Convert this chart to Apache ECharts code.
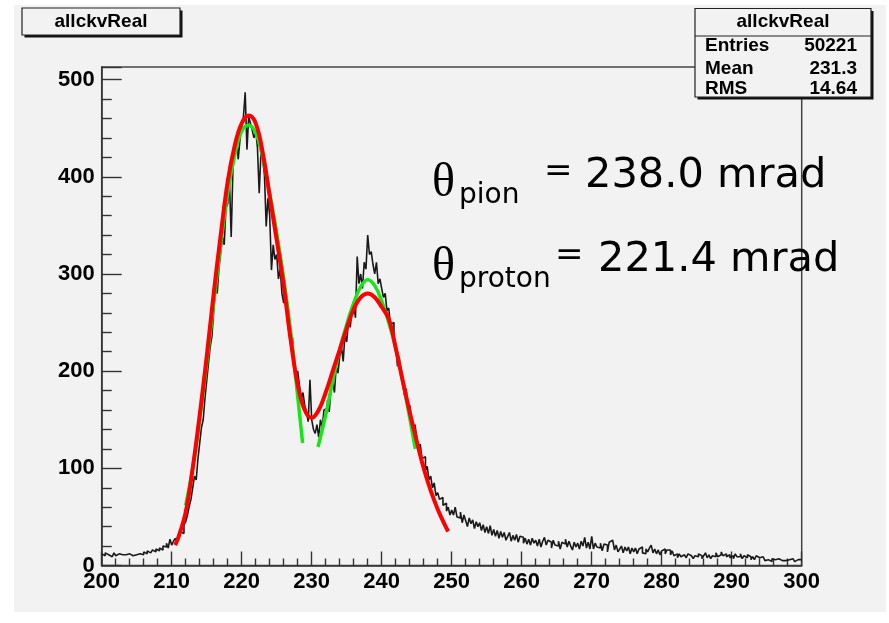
<!DOCTYPE html>
<html>
<head>
<meta charset="utf-8">
<script src="https://cdn.jsdelivr.net/npm/echarts@6/dist/echarts.min.js"></script>
<style>
  html, body { margin: 0; padding: 0; background: #ffffff; }
  #chart { width: 889px; height: 623px; }
</style>
</head>
<body>
<div id="chart"></div>
<script>
// Cherenkov angle histogram (mrad), 0.25 mrad bins from 200 to 300
const histName = 'allckvReal';
const binLow = 200;
const binWidth = 0.25;
const counts = [
  12, 10, 13, 11,   12, 9, 11, 13,    10, 12, 14, 11,   12, 11, 9, 12,
  13, 10, 12, 11,   9, 12, 13, 11,    14, 12, 15, 13,   11, 16, 14, 17,
  15, 18, 16, 20,   19, 23, 18, 27,   // 200-209
  21, 25, 28, 24,   30, 35, 33, 42,   45, 52, 61, 68,   80, 92, 88, 110,
  126, 142, 150, 172, 190, 208, 225, 236, 262, 286, 280, 306, 322, 338, 330, 368,
  372, 395, 338, 409, 425, 442, 418, 438, // 210-219
  452, 462, 487, 428, 462, 455, 448, 440, 448, 430, 383, 425, 418, 402, 349, 378,
  360, 304, 330, 315, 320, 295, 305, 280, 270, 285, 255, 240, 228, 235, 210, 196,
  200, 185, 172, 178, 165, 158, 148, 191, // 220-229
  150, 140, 136, 145, 132, 150, 142, 160, 162, 170, 158, 182, 190, 178, 205, 198,
  215, 225, 210, 238, 230, 252, 245, 262, 270, 255, 318, 290, 300, 285, 312, 305,
  340, 320, 323, 310, 300, 312, 290, 295, // 230-239
  285, 276, 280, 262, 265, 248, 250, 232, 228, 205, 215, 195, 190, 175, 182, 160,
  165, 150, 140, 145, 132, 118, 125, 110, 112, 98, 102, 88,  92, 80, 85, 72,
  75, 68, 70, 62,   64, 56, 60, 52,   // 240-249
  57, 52, 60, 50,   49, 55, 44, 52,   46, 40, 49, 43,   47, 38, 45, 40,
  44, 36, 42, 34,   40, 33, 41, 31,   37, 30, 36, 28,   35, 29, 34, 26,
  30, 34, 25, 31,   26, 32, 24, 30,   // 250-259
  29, 23, 28, 22,   27, 21, 28, 23,   26, 20, 27, 19,   25, 29, 21, 26,
  24, 18, 26, 21,   20, 25, 17, 24,   22, 27, 19, 25,   20, 16, 24, 19,
  23, 17, 25, 20,   29, 18, 24, 17,   // 260-269
  30, 17, 23, 19,   18, 23, 15, 22,   21, 14, 24, 26,   25, 16, 21, 14,
  17, 20, 13, 19,   15, 19, 12, 18,   14, 18, 12, 17,   19, 13, 12, 17,
  14, 18, 21, 13,   17, 12, 16, 11,   // 270-279
  15, 17, 12, 16,   16, 11, 15, 10,   12, 8, 12, 9,     11, 9, 8, 12,
  10, 12, 7, 10,    9, 12, 10, 7,     10, 13, 8, 11,    7, 10, 9, 13,
  9, 11, 14, 10,    12, 9, 11, 8,     // 280-289
  10, 7, 12, 9,     9, 12, 7, 10,     8, 11, 9, 6,      9, 6, 10, 8,
  7, 9, 8, 5,       6, 8, 4, 7,       6, 4, 7, 6,       5, 7, 5, 4,
  6, 4, 7, 5,       4, 6, 5, 6        // 290-299
];

// Combined two-peak fit (red), sampled along 210.5 - 249.5 mrad
const fitAllX = [210.5, 211, 212, 213, 214, 215, 216, 217, 218, 219, 220, 221, 222, 223, 224,
  225, 226, 227, 228, 229, 230, 231, 232, 233, 234, 235, 236, 237, 238, 239, 240, 241, 242,
  243, 244, 245, 246, 247, 248, 249, 249.5];
const fitAllY = [21, 30, 55, 100, 155, 215, 280, 340, 395, 432, 455, 463, 455, 425, 380,
  335, 288, 232, 186, 160, 152, 160, 178, 200, 222, 244, 264, 276, 280, 276, 266, 254, 224,
  190, 158, 128, 100, 77, 58, 42, 35];

// Single-peak fits (green): proton peak and pion peak
const fitProtonX = [212, 213, 214, 215, 216, 217, 218, 219, 220, 221, 222, 223, 224, 225, 226, 227, 228, 228.7];
const fitProtonY = [62, 100, 150, 208, 270, 330, 383, 422, 447, 453, 445, 420, 383, 342, 295, 240, 174, 126];
const fitPionX = [230.9, 232, 233, 234, 235, 236, 237, 238, 239, 240, 241, 242, 243, 244, 244.8];
const fitPionY = [122, 155, 190, 222, 248, 270, 287, 294, 288, 272, 250, 224, 190, 152, 120];

// Statistics box
const statLabels = ['Entries', 'Mean', 'RMS'];
const statValues = ['50221', '231.3', '14.64'];

// Fitted angles
const angleLabels = ['pion', 'proton'];
const angleValues = ['238.0 mrad', '221.4 mrad'];

const histData = counts.map((v, i) => [binLow + i * binWidth, v]);
histData.push([binLow + counts.length * binWidth, counts[counts.length - 1]]);

const zip = (xs, ys) => xs.map((x, i) => [x, ys[i]]);

const axisFont = { fontFamily: 'Liberation Sans', fontWeight: 'bold', fontSize: 22, color: '#000' };
const boxFont = 'bold 19px "Liberation Sans"';

const chart = echarts.init(document.getElementById('chart'), null, { renderer: 'canvas' });

const graphics = [
  // pad background
  { type: 'rect', z: -100, silent: true, shape: { x: 14, y: 5, width: 872, height: 607 }, style: { fill: '#f2f2f2' } },
  // title pave shadow + box
  { type: 'rect', z: 100, shape: { x: 24.5, y: 10.5, width: 158, height: 27 }, style: { fill: '#111' } },
  { type: 'rect', z: 101, shape: { x: 22, y: 8, width: 158, height: 27 }, style: { fill: '#f2f2f2', stroke: '#222', lineWidth: 1.2 } },
  { type: 'text', z: 102, x: 101, y: 22, style: { text: histName, font: boxFont, fill: '#000', align: 'center', verticalAlign: 'middle' } },
  // stats pave shadow + box
  { type: 'rect', z: 100, shape: { x: 697.5, y: 11, width: 176, height: 88.5 }, style: { fill: '#111' } },
  { type: 'rect', z: 101, shape: { x: 695, y: 8.5, width: 176, height: 88.5 }, style: { fill: '#f2f2f2', stroke: '#222', lineWidth: 1.2 } },
  { type: 'line', z: 102, shape: { x1: 695, y1: 36, x2: 871, y2: 36 }, style: { stroke: '#222', lineWidth: 1.2 } },
  { type: 'text', z: 102, x: 783, y: 22, style: { text: histName, font: boxFont, fill: '#000', align: 'center', verticalAlign: 'middle' } }
];
const statRowY = [46, 69, 89];
statLabels.forEach((lab, i) => {
  graphics.push({ type: 'text', z: 102, x: 705, y: statRowY[i], style: { text: lab, font: boxFont, fill: '#000', align: 'left', verticalAlign: 'middle' } });
  graphics.push({ type: 'text', z: 102, x: 857, y: statRowY[i], style: { text: statValues[i], font: boxFont, fill: '#000', align: 'right', verticalAlign: 'middle' } });
});

// angle annotations: theta with subscript, equals sign, value
const rowBase = [188, 272];
const eqX = [544, 555];
const valX = [585, 598];
angleLabels.forEach((lab, i) => {
  const b = rowBase[i];
  graphics.push({ type: 'text', z: 50, x: 432, y: b + 19, style: { text: 'θ', font: '48px "Liberation Serif"', fill: '#000', align: 'left', verticalAlign: 'bottom' } });
  graphics.push({ type: 'text', z: 50, x: 459, y: b + 22, style: { text: lab, font: '28px "DejaVu Sans"', fill: '#000', align: 'left', verticalAlign: 'bottom' } });
  graphics.push({ type: 'text', z: 50, x: eqX[i], y: b - 16, style: { text: '=', font: '34px "DejaVu Sans"', fill: '#000', align: 'left', verticalAlign: 'middle' } });
  graphics.push({ type: 'text', z: 50, x: valX[i], y: b + 9, style: { text: angleValues[i], font: '41.5px "DejaVu Sans"', fill: '#000', align: 'left', verticalAlign: 'bottom' } });
});

const tickStyle = { color: '#333', width: 1.4 };

chart.setOption({
  animation: false,
  backgroundColor: '#ffffff',
  grid: {
    left: 101.7, right: 87.3, top: 67, bottom: 57.5,
    show: true, borderColor: '#444', borderWidth: 1.5, backgroundColor: 'transparent'
  },
  xAxis: {
    type: 'value', min: 200, max: 300, interval: 10,
    axisLine: { lineStyle: { color: '#333', width: 1.5 } },
    axisTick: { show: true, inside: true, length: 14, lineStyle: tickStyle },
    minorTick: { show: true, splitNumber: 5, length: 7, lineStyle: tickStyle },
    splitLine: { show: false },
    axisLabel: Object.assign({ margin: 5, showMinLabel: true, showMaxLabel: true }, axisFont)
  },
  yAxis: {
    type: 'value', min: 0, max: 513, interval: 100,
    axisLine: { show: true, lineStyle: { color: '#333', width: 1.5 } },
    axisTick: { show: true, inside: true, length: 20, lineStyle: tickStyle },
    minorTick: { show: true, splitNumber: 5, length: 10, lineStyle: tickStyle },
    splitLine: { show: false },
    axisLabel: Object.assign({ margin: 7, showMinLabel: true, showMaxLabel: false }, axisFont)
  },
  series: [
    {
      name: histName, type: 'line', step: 'end', data: histData,
      showSymbol: false, symbol: 'none', sampling: null, z: 2,
      lineStyle: { color: '#1a1a1a', width: 1.6 }
    },
    {
      name: 'proton fit', type: 'line', data: zip(fitProtonX, fitProtonY), smooth: 0.4,
      showSymbol: false, symbol: 'none', z: 3,
      lineStyle: { color: '#16e616', width: 3.5 }
    },
    {
      name: 'pion fit', type: 'line', data: zip(fitPionX, fitPionY), smooth: 0.4,
      showSymbol: false, symbol: 'none', z: 3,
      lineStyle: { color: '#16e616', width: 3.5 }
    },
    {
      name: 'combined fit', type: 'line', data: zip(fitAllX, fitAllY), smooth: 0.4,
      showSymbol: false, symbol: 'none', z: 4,
      lineStyle: { color: '#ff0000', width: 4 }
    }
  ],
  graphic: graphics
});
</script>
</body>
</html>
